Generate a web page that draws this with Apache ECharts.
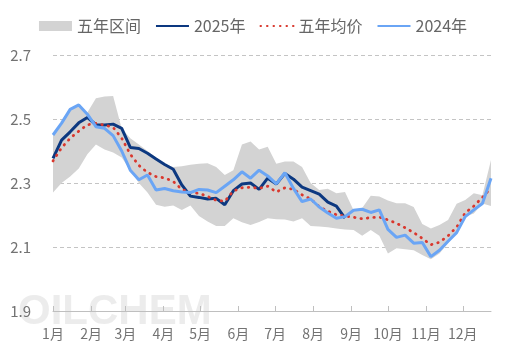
<!DOCTYPE html>
<html><head><meta charset="utf-8">
<script src="https://cdn.jsdelivr.net/npm/echarts@6/dist/echarts.min.js"></script>
<style>html,body{margin:0;padding:0;background:#fff}#c{width:506px;height:358px}</style>
</head><body><div id="c"></div>
<script>
const monthLabels = ['1月','2月','3月','4月','5月','6月','7月','8月','9月','10月','11月','12月'];
const monthDays = [0,31,59,90,120,151,181,212,243,273,304,334];

const bandLow = [2.27,2.30,2.32,2.345,2.39,2.42,2.405,2.395,2.38,2.34,2.30,2.27,2.232,2.226,2.23,2.216,2.23,2.197,2.18,2.166,2.166,2.19,2.177,2.169,2.178,2.19,2.187,2.186,2.18,2.19,2.166,2.164,2.162,2.158,2.155,2.153,2.135,2.153,2.135,2.08,2.096,2.093,2.09,2.075,2.062,2.08,2.112,2.145,2.195,2.205,2.236,2.228];
const bandHigh = [2.45,2.487,2.53,2.544,2.52,2.565,2.57,2.572,2.47,2.44,2.42,2.40,2.38,2.36,2.35,2.352,2.357,2.36,2.362,2.35,2.325,2.34,2.42,2.43,2.405,2.413,2.36,2.367,2.367,2.35,2.30,2.278,2.282,2.268,2.272,2.215,2.222,2.26,2.258,2.245,2.237,2.237,2.225,2.172,2.158,2.169,2.184,2.235,2.247,2.268,2.262,2.372];
const avg5 = [2.369,2.41,2.44,2.462,2.482,2.486,2.481,2.474,2.44,2.39,2.355,2.333,2.32,2.316,2.305,2.28,2.27,2.268,2.258,2.246,2.243,2.275,2.285,2.287,2.283,2.29,2.272,2.285,2.28,2.263,2.25,2.226,2.212,2.201,2.197,2.193,2.188,2.192,2.193,2.185,2.174,2.16,2.145,2.127,2.107,2.115,2.135,2.162,2.207,2.228,2.255,2.285];
const y2025 = [2.377,2.434,2.46,2.488,2.505,2.482,2.481,2.484,2.471,2.411,2.408,2.393,2.375,2.358,2.343,2.294,2.259,2.255,2.25,2.252,2.232,2.276,2.297,2.30,2.28,2.315,2.297,2.33,2.312,2.287,2.276,2.265,2.24,2.228,2.19];
const y2024 = [2.45,2.487,2.53,2.544,2.515,2.476,2.471,2.448,2.40,2.34,2.31,2.325,2.278,2.283,2.276,2.272,2.27,2.28,2.278,2.27,2.29,2.31,2.335,2.315,2.34,2.322,2.297,2.332,2.283,2.242,2.25,2.225,2.206,2.19,2.195,2.215,2.218,2.208,2.216,2.155,2.13,2.137,2.112,2.114,2.07,2.09,2.118,2.145,2.195,2.216,2.236,2.315];

const weekCats = bandLow.map((_, i) => '第' + (i + 1) + '周');
const FONT = '"Noto Sans CJK SC","Noto Sans",sans-serif';
const bandDiff = bandHigh.map((v, i) => +(v - bandLow[i]).toFixed(4));

const chart = echarts.init(document.getElementById('c'), null, {renderer:'canvas'});
chart.setOption({
  animation:false,
  textStyle:{fontFamily:FONT},
  graphic:[{type:'text', left:18, top:291, z:-10, silent:true,
    style:{text:'OILCHEM', fontSize:42, fontWeight:'bold', fontFamily:'Arial, "Liberation Sans", sans-serif', fill:'rgba(200,200,200,0.35)'}}],
  legend:{top:13, left:'center', itemWidth:33, itemHeight:10, itemGap:14,
    textStyle:{fontSize:16, color:'#666', fontFamily:FONT},
    data:[{name:'五年区间', icon:'rect'},
          {name:'2025年', itemStyle:{opacity:0}},
          {name:'五年均价', itemStyle:{opacity:0}},
          {name:'2024年', itemStyle:{opacity:0}}]},
  grid:{left:53, right:15, top:55, bottom:47},
  xAxis:[
    {type:'value', min:0, max:357,
      axisLine:{lineStyle:{color:'#bfbfbf', width:1}},
      axisTick:{show:true, inside:true, length:5, customValues:monthDays, lineStyle:{color:'#bfbfbf'}},
      axisLabel:{customValues:monthDays, formatter:v => monthLabels[monthDays.indexOf(v)], margin:16, fontSize:14, color:'#737373', fontFamily:FONT},
      splitLine:{show:false}},
    {type:'category', data:weekCats, boundaryGap:false, show:false, position:'bottom'}
  ],
  yAxis:{type:'value', min:1.9, max:2.7, interval:0.2,
    axisLabel:{formatter:v => v.toFixed(1), margin:22, fontSize:15, color:'#737373', fontFamily:FONT},
    axisLine:{show:false}, axisTick:{show:false},
    splitLine:{lineStyle:{type:[4,3], color:'#c4c4c4'}}},
  series:[
    {name:'bandBase', type:'line', xAxisIndex:1, stack:'band', data:bandLow, symbol:'none', silent:true,
      lineStyle:{opacity:0}, areaStyle:{opacity:0}},
    {name:'五年区间', type:'line', xAxisIndex:1, stack:'band', data:bandDiff, symbol:'none', silent:true,
      color:'#d3d3d3', lineStyle:{width:0, opacity:0}, areaStyle:{color:'#d3d3d3', opacity:1}},
    {name:'2025年', type:'line', xAxisIndex:1, data:y2025, symbol:'none', color:'#0c3880',
      lineStyle:{width:3, color:'#0c3880'}},
    {name:'五年均价', type:'line', xAxisIndex:1, data:avg5, symbol:'none', color:'#d9382e',
      lineStyle:{width:2.8, color:'#d9382e', type:[0.5,6], cap:'round'}},
    {name:'2024年', type:'line', xAxisIndex:1, data:y2024, symbol:'none', color:'#6aa5f5',
      lineStyle:{width:3, color:'#6aa5f5'}}
  ]
});
</script></body></html>
